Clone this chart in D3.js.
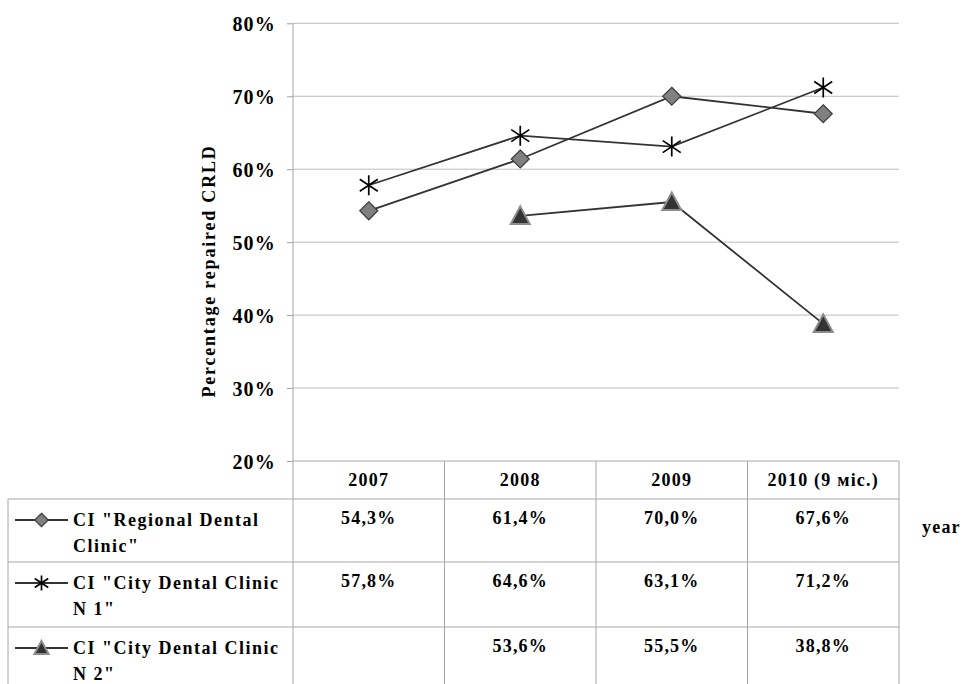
<!DOCTYPE html>
<html><head><meta charset="utf-8">
<script src="https://cdn.jsdelivr.net/npm/d3@7"></script>
<style>
html,body{margin:0;padding:0;background:#fff;}
svg text{font-family:"Liberation Serif","Times New Roman",serif;font-weight:bold;fill:#000;}
</style></head>
<body><svg id="c" width="963" height="684"></svg>
<script>
const categories = ["2007", "2008", "2009", "2010 (9 міс.)"];
const seriesNames = [["CI \"Regional Dental", "Clinic\""], ["CI \"City Dental Clinic", "N 1\""], ["CI \"City Dental Clinic", "N 2\""]];
const regional = [54.3, 61.4, 70.0, 67.6];
const city1 = [57.8, 64.6, 63.1, 71.2];
const city2 = [null, 53.6, 55.5, 38.8];
const yTicks = [20, 30, 40, 50, 60, 70, 80];
const markerTypes = ["diamond", "star", "triangle"];
const yTitle = "Percentage repaired CRLD";
const xTitle = "year";

const series = [regional, city1, city2];
const svg = d3.select("#c");
const L = 293, R = 899, T = 23.3, B = 461;
const x = d3.scaleBand().domain(categories).range([L, R]);
const y = d3.scaleLinear().domain([20, 80]).range([B, T]);
const fmt = v => v == null ? "" : v.toFixed(1).replace(".", ",") + "%";

// grid
svg.append("g").selectAll("line").data(yTicks.filter(t => t > 20)).join("line")
  .attr("x1", L).attr("x2", R).attr("y1", d => y(d)).attr("y2", d => y(d))
  .attr("stroke", "#bdbdbd").attr("stroke-width", 1);

// y axis
const ya = svg.append("g").attr("transform", `translate(${L},0)`)
  .call(d3.axisLeft(y).tickValues(yTicks).tickSize(6).tickPadding(11).tickFormat(d => d + "%"));
ya.select(".domain").remove();
ya.selectAll(".tick line").attr("stroke", "#a0a0a0");
ya.selectAll(".tick text").attr("dy", "0.36em").style("font-size", "20px").style("letter-spacing", "1.2px")
  .style("font-family", "'Liberation Serif', serif").style("font-weight", "bold").attr("fill", "#000");

svg.append("text").attr("transform", "translate(215,271) rotate(-90)")
  .attr("text-anchor", "middle").style("font-size", "18px").style("letter-spacing", "1.8px").text(yTitle);

// table
const rowTops = [499, 562, 627, 692];
const tg = svg.append("g").attr("stroke", "#a6a6a6").attr("stroke-width", 1).attr("fill", "none");
tg.append("line").attr("x1", L).attr("x2", R).attr("y1", B).attr("y2", B);
rowTops.forEach(r => tg.append("line").attr("x1", 8).attr("x2", R).attr("y1", r).attr("y2", r));
tg.append("line").attr("x1", 8).attr("x2", 8).attr("y1", 499).attr("y2", 692);
tg.append("line").attr("x1", L).attr("x2", L).attr("y1", T).attr("y2", 692);
categories.forEach(c => tg.append("line").attr("x1", x(c) + x.bandwidth()).attr("x2", x(c) + x.bandwidth()).attr("y1", B).attr("y2", 692));

svg.append("g").selectAll("text").data(categories).join("text")
  .attr("x", d => x(d) + x.bandwidth() / 2).attr("y", 486).attr("text-anchor", "middle")
  .style("font-size", "18px").style("letter-spacing", "1.2px").text(d => d);

series.forEach((s, i) => {
  svg.append("g").selectAll("text").data(s.map((v, j) => ({v, c: categories[j]}))).join("text")
    .attr("x", d => x(d.c) + x.bandwidth() / 2).attr("y", rowTops[i] + 25).attr("text-anchor", "middle")
    .style("font-size", "18px").style("letter-spacing", "1.2px").text(d => fmt(d.v));
  svg.append("text").attr("x", 73).attr("y", rowTops[i] + 27)
    .style("font-size", "18px").style("letter-spacing", "1.5px").text(seriesNames[i][0]);
  svg.append("text").attr("x", 73).attr("y", rowTops[i] + 53)
    .style("font-size", "18px").style("letter-spacing", "1.5px").text(seriesNames[i][1]);
});

svg.append("text").attr("x", 922).attr("y", 533).style("font-size", "18px").style("letter-spacing", "1.2px").text(xTitle);

// markers
function drawMarker(g, type, cx, cy, s) {
  if (type === "diamond") {
    const h = 9 * s;
    g.append("path").attr("d", `M${cx},${cy - h}L${cx + h},${cy}L${cx},${cy + h}L${cx - h},${cy}Z`)
      .attr("fill", "#808080").attr("stroke", "#3c3c3c").attr("stroke-width", 1.2);
  } else if (type === "star") {
    const h = 10 * s, w = 9 * s;
    g.append("path").attr("d", `M${cx},${cy - h}L${cx},${cy + h}M${cx - w},${cy - h * 0.6}L${cx + w},${cy + h * 0.6}M${cx - w},${cy + h * 0.6}L${cx + w},${cy - h * 0.6}`)
      .attr("stroke", "#000").attr("stroke-width", 1.7).attr("fill", "none");
  } else {
    const h = 9.5 * s;
    g.append("path").attr("d", `M${cx},${cy - h}L${cx + h},${cy + h * 0.85}L${cx - h},${cy + h * 0.85}Z`)
      .attr("fill", "#333").attr("stroke", "#8c8c8c").attr("stroke-width", 2);
  }
}

const line = d3.line().defined(d => d.v != null).x(d => x(d.c) + x.bandwidth() / 2).y(d => y(d.v));
series.forEach((s, i) => {
  const pts = s.map((v, j) => ({v, c: categories[j]}));
  svg.append("path").datum(pts).attr("d", line).attr("fill", "none").attr("stroke", "#333").attr("stroke-width", 1.8);
});
series.forEach((s, i) => {
  const g = svg.append("g");
  s.forEach((v, j) => { if (v != null) drawMarker(g, markerTypes[i], x(categories[j]) + x.bandwidth() / 2, y(v), 1); });
  const ly = rowTops[i] + 21;
  svg.append("line").attr("x1", 15).attr("x2", 68).attr("y1", ly).attr("y2", ly).attr("stroke", "#333").attr("stroke-width", 1.8);
  drawMarker(svg.append("g"), markerTypes[i], 41.5, ly, 0.75);
});
</script></body></html>
